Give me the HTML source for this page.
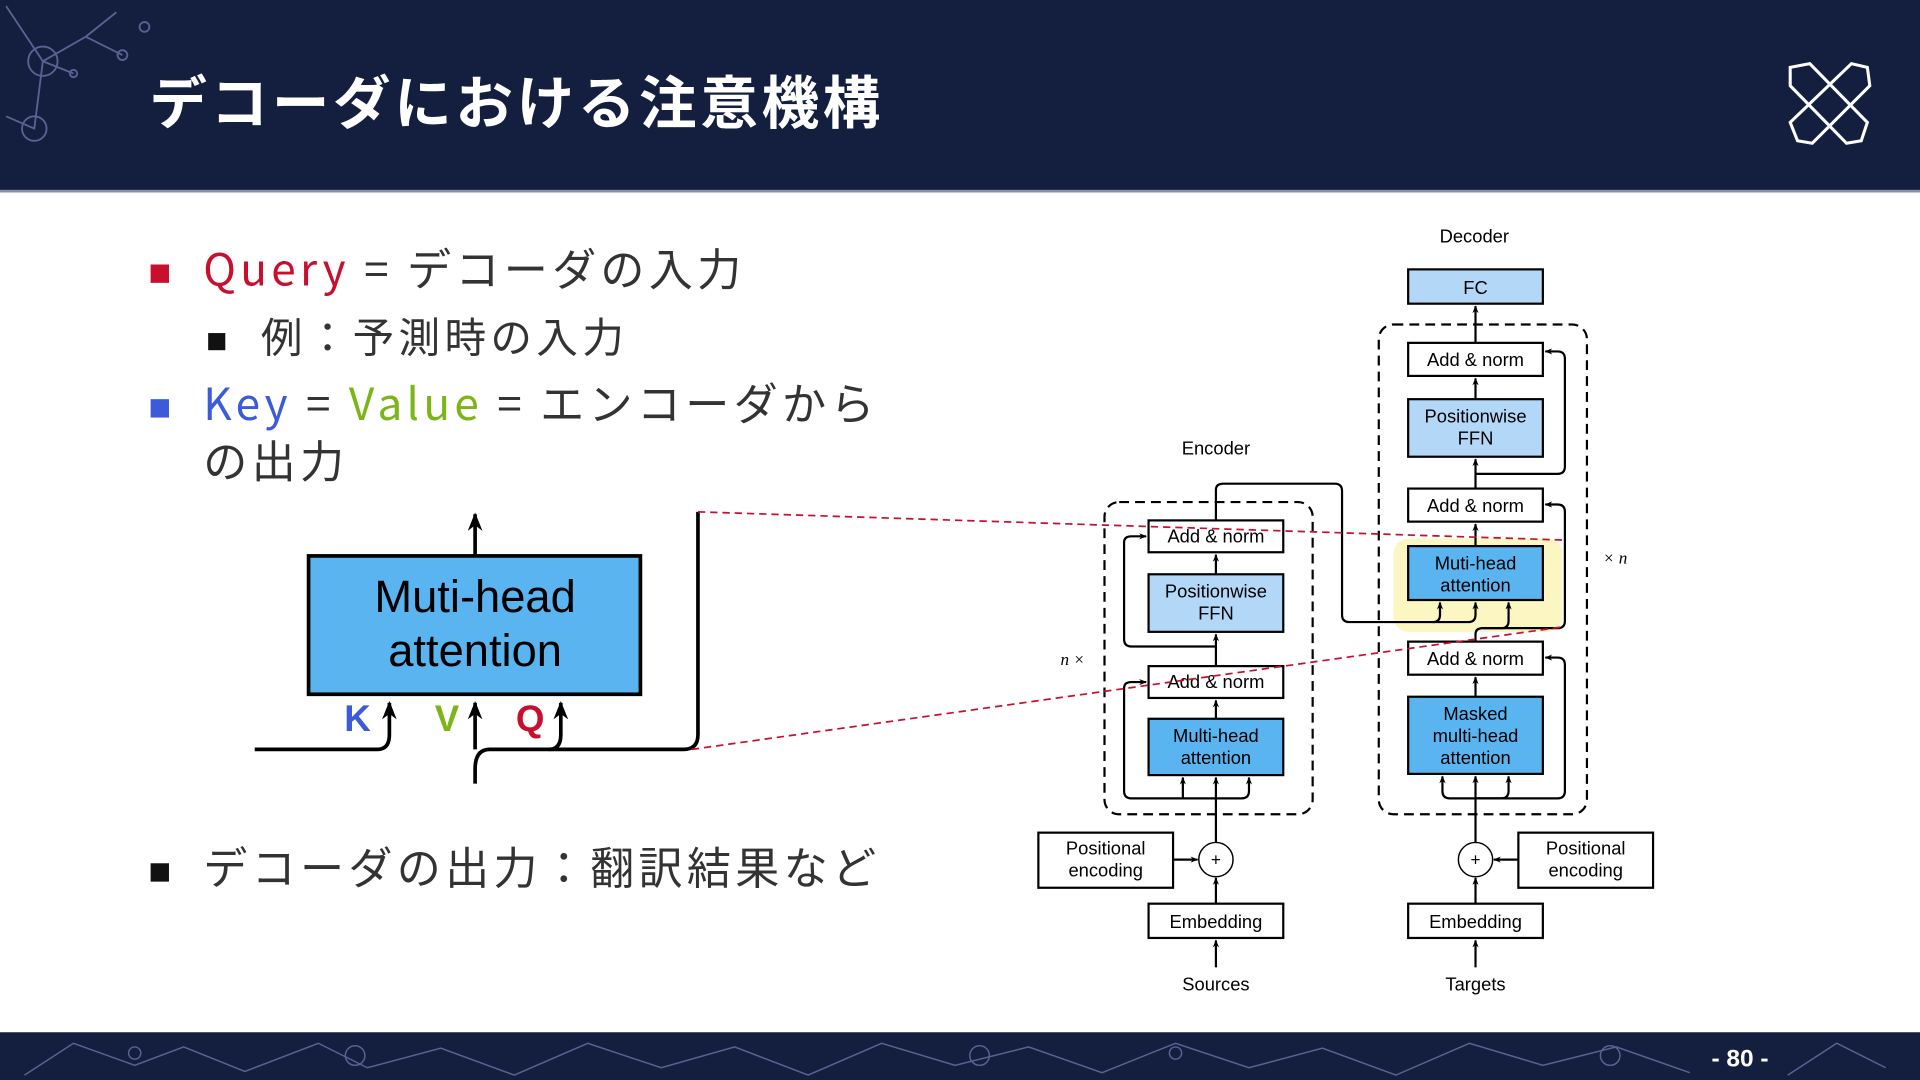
<!DOCTYPE html>
<html><head><meta charset="utf-8"><style>
html,body{margin:0;padding:0;background:#fff;}
svg{display:block}
.j{font-family:"Noto Sans CJK JP","Liberation Sans",sans-serif;}
.a{font-family:"Liberation Sans",sans-serif;}
</style></head><body>
<svg width="1920" height="1080" viewBox="0 0 1568 882" xmlns="http://www.w3.org/2000/svg">
<defs>
<marker id="ar" viewBox="0 0 10 10" refX="9" refY="5" markerWidth="5" markerHeight="5" orient="auto-start-reverse"><path d="M0,1 L10,5 L0,9 L3,5 z" fill="#000"/></marker>
<marker id="ab" viewBox="0 0 10 10" refX="9" refY="5" markerWidth="3.5" markerHeight="3.5" orient="auto-start-reverse"><path d="M0,1 L10,5 L0,9 L3,5 z" fill="#000"/></marker>
</defs>
<rect width="1568" height="882" fill="#fff"/>
<!-- header -->
<rect x="0" y="0" width="1568" height="157" fill="#141f40"/>
<rect x="0" y="155" width="1568" height="2" fill="#8a90a8"/>
<g stroke="#6d73a8" stroke-width="1.5" fill="none" opacity="0.8">
<path d="M5,5 L35,50 L70,30 L100,45 M35,50 L28,105 L5,95 M70,30 L95,10 M60,60 L35,50"/>
<circle cx="35" cy="50" r="12"/><circle cx="28" cy="105" r="10"/><circle cx="100" cy="45" r="4"/><circle cx="118" cy="22" r="4"/><circle cx="60" cy="60" r="3"/>
</g>
<text x="122" y="101" class="j" font-size="47" font-weight="bold" fill="#fff" letter-spacing="3">デコーダにおける注意機構</text>
<g stroke="#fff" stroke-width="2.5" fill="none">
<path d="M1462,55 L1478,52 L1525,100 L1520,115 L1508,117 L1462,70 z"/>
<path d="M1525,55 L1512,52 L1462,100 L1468,115 L1480,117 L1527,70 z"/>
</g>
<!-- footer -->
<rect x="0" y="843" width="1568" height="39" fill="#141f40"/>
<g stroke="#6d73a8" stroke-width="1.2" fill="none" opacity="0.8">
<path d="M20,878 L60,852 L110,870 L150,855 L200,875 L260,852 L300,872 L360,856 L420,878 L480,852 L540,872 L600,855 L660,878 L720,852 L780,870 L840,855 L900,876 L960,852 L1020,872 L1080,856 L1140,878 L1200,852 L1260,870 L1320,855 L1380,876 M1460,878 L1500,852 L1540,872"/>
<circle cx="290" cy="862" r="8"/><circle cx="800" cy="862" r="8"/><circle cx="1315" cy="862" r="8"/><circle cx="110" cy="860" r="5"/><circle cx="960" cy="860" r="5"/>
</g>
<text x="1421" y="871" class="a" font-size="20" font-weight="bold" fill="#fff" text-anchor="middle">- 80 -</text>

<!-- bullets -->
<rect x="123" y="216" width="15" height="15" fill="#c8102e"/>
<text x="166" y="233" class="j" font-size="36" fill="#333" letter-spacing="3.5"><tspan fill="#c8102e">Query</tspan> = デコーダの入力</text>
<rect x="170" y="272" width="14" height="14" fill="#111"/>
<text x="213" y="288" class="j" font-size="34" fill="#333" letter-spacing="3.5">例：予測時の入力</text>
<rect x="123" y="326" width="15" height="15" fill="#3b5bdb"/>
<text x="166" y="343" class="j" font-size="36" fill="#333" letter-spacing="3.5"><tspan fill="#3b5bdb">Key</tspan> = <tspan fill="#7cb518">Value</tspan> = エンコーダから</text>
<text x="166" y="390" class="j" font-size="36" fill="#333" letter-spacing="3.5">の出力</text>
<rect x="123" y="705" width="15" height="15" fill="#111"/>
<text x="166" y="722" class="j" font-size="36" fill="#333" letter-spacing="3.5">デコーダの出力：翻訳結果など</text>

<!-- left diagram -->
<rect x="252" y="454" width="271" height="113" fill="#5ab4f0" stroke="#000" stroke-width="3"/>
<text x="388" y="500" class="a" font-size="37" text-anchor="middle">Muti-head</text>
<text x="388" y="544" class="a" font-size="37" text-anchor="middle">attention</text>
<g stroke="#000" stroke-width="3" fill="none">
<line x1="388" y1="453" x2="388" y2="420" marker-end="url(#ar)"/>
<path d="M208,612 L308,612 Q318,612 318,600 L318,574" marker-end="url(#ar)"/>
<path d="M388,640 L388,628 Q388,612 400,612 L558,612 Q570,612 570,600 L570,418"/>
<line x1="388" y1="612" x2="388" y2="574" marker-end="url(#ar)"/>
<path d="M448,612 Q458,612 458,600 L458,574" marker-end="url(#ar)"/>
</g>
<text x="292" y="597" class="a" font-size="30" font-weight="bold" fill="#3b5bdb" text-anchor="middle">K</text>
<text x="365" y="597" class="a" font-size="30" font-weight="bold" fill="#7cb518" text-anchor="middle">V</text>
<text x="433" y="597" class="a" font-size="30" font-weight="bold" fill="#c8102e" text-anchor="middle">Q</text>

<!-- right diagram -->
<rect x="1138" y="440" width="138" height="76" rx="12" fill="#fbf6c2"/>
<g fill="none" stroke="#000" stroke-width="1.8" stroke-dasharray="8,5">
<rect x="902" y="410" width="170" height="255" rx="12"/>
<rect x="1126" y="265" width="170" height="400" rx="12"/>
</g>
<g stroke="#000" stroke-width="1.8">
<rect x="938" y="425" width="110" height="26" fill="#fff"/>
<rect x="938" y="469" width="110" height="47" fill="#b3d7f7"/>
<rect x="938" y="544" width="110" height="26" fill="#fff"/>
<rect x="938" y="587" width="110" height="46" fill="#5ab4f0"/>
<rect x="848" y="680" width="110" height="45" fill="#fff"/>
<rect x="938" y="738" width="110" height="28" fill="#fff"/>
<rect x="1150" y="220" width="110" height="28" fill="#b3d7f7"/>
<rect x="1150" y="280" width="110" height="27" fill="#fff"/>
<rect x="1150" y="326" width="110" height="47" fill="#b3d7f7"/>
<rect x="1150" y="399" width="110" height="27" fill="#fff"/>
<rect x="1150" y="446" width="110" height="44" fill="#5ab4f0"/>
<rect x="1150" y="524" width="110" height="27" fill="#fff"/>
<rect x="1150" y="569" width="110" height="63" fill="#5ab4f0"/>
<rect x="1240" y="680" width="110" height="45" fill="#fff"/>
<rect x="1150" y="738" width="110" height="28" fill="#fff"/>
<circle cx="993" cy="702" r="14" fill="#fff" stroke-width="1.2"/>
<circle cx="1205" cy="702" r="14" fill="#fff" stroke-width="1.2"/>
</g>
<g class="a" font-size="15" text-anchor="middle" fill="#000">
<text x="993" y="371">Encoder</text>
<text x="1204" y="198">Decoder</text>
<text x="993" y="443">Add &amp; norm</text>
<text x="993" y="488">Positionwise</text><text x="993" y="506">FFN</text>
<text x="993" y="562">Add &amp; norm</text>
<text x="993" y="606">Multi-head</text><text x="993" y="624">attention</text>
<text x="903" y="698">Positional</text><text x="903" y="716">encoding</text>
<text x="993" y="758">Embedding</text>
<text x="993" y="809">Sources</text>
<text x="1205" y="240">FC</text>
<text x="1205" y="299">Add &amp; norm</text>
<text x="1205" y="345">Positionwise</text><text x="1205" y="363">FFN</text>
<text x="1205" y="418">Add &amp; norm</text>
<text x="1205" y="465">Muti-head</text><text x="1205" y="483">attention</text>
<text x="1205" y="543">Add &amp; norm</text>
<text x="1205" y="588">Masked</text><text x="1205" y="606">multi-head</text><text x="1205" y="624">attention</text>
<text x="1295" y="698">Positional</text><text x="1295" y="716">encoding</text>
<text x="1205" y="758">Embedding</text>
<text x="1205" y="809">Targets</text>
<text x="993" y="707" font-size="14">+</text>
<text x="1205" y="707" font-size="14">+</text>
</g>
<text x="876" y="543" font-family="Liberation Serif,serif" font-size="14" font-style="italic" text-anchor="middle">n ×</text>
<text x="1319" y="460" font-family="Liberation Serif,serif" font-size="14" font-style="italic" text-anchor="middle">× n</text>
<g stroke="#000" stroke-width="1.8" fill="none">
<line x1="993" y1="790" x2="993" y2="768" marker-end="url(#ab)"/>
<line x1="993" y1="738" x2="993" y2="717" marker-end="url(#ab)"/>
<line x1="958" y1="702" x2="978" y2="702" marker-end="url(#ab)"/>
<line x1="993" y1="688" x2="993" y2="635" marker-end="url(#ab)"/>
<path d="M993,652 L924,652 Q918,652 918,646 L918,562 Q918,557 924,557 L936,557" marker-end="url(#ab)"/>
<path d="M966,652 Q966,648 966,635" marker-end="url(#ab)"/>
<path d="M993,652 L1014,652 Q1020,652 1020,646 L1020,635" marker-end="url(#ab)"/>
<line x1="993" y1="587" x2="993" y2="572" marker-end="url(#ab)"/>
<line x1="993" y1="544" x2="993" y2="518" marker-end="url(#ab)"/>
<path d="M993,528 L924,528 Q918,528 918,522 L918,443 Q918,438 924,438 L936,438" marker-end="url(#ab)"/>
<line x1="993" y1="469" x2="993" y2="453" marker-end="url(#ab)"/>
<path d="M993,425 L993,400 Q993,395 999,395 L1090,395 Q1096,395 1096,401 L1096,502 Q1096,508 1102,508 L1170,508 Q1176,508 1176,502 L1176,492" marker-end="url(#ab)"/>
<path d="M1170,508 L1199,508 Q1205,508 1205,502 L1205,492" marker-end="url(#ab)"/>
<line x1="1205" y1="790" x2="1205" y2="768" marker-end="url(#ab)"/>
<line x1="1205" y1="738" x2="1205" y2="717" marker-end="url(#ab)"/>
<line x1="1240" y1="702" x2="1220" y2="702" marker-end="url(#ab)"/>
<line x1="1205" y1="688" x2="1205" y2="634" marker-end="url(#ab)"/>
<path d="M1205,652 L1272,652 Q1278,652 1278,646 L1278,543 Q1278,537 1272,537 L1262,537" marker-end="url(#ab)"/>
<path d="M1205,652 L1184,652 Q1178,652 1178,646 L1178,634" marker-end="url(#ab)"/>
<path d="M1205,652 L1226,652 Q1232,652 1232,646 L1232,634" marker-end="url(#ab)"/>
<line x1="1205" y1="569" x2="1205" y2="553" marker-end="url(#ab)"/>
<path d="M1205,524 L1205,518 Q1205,513 1211,513 L1226,513 Q1232,513 1232,507 L1232,492" marker-end="url(#ab)"/>
<path d="M1211,513 L1272,513 Q1278,513 1278,507 L1278,418 Q1278,412 1272,412 L1262,412" marker-end="url(#ab)"/>
<line x1="1205" y1="446" x2="1205" y2="428" marker-end="url(#ab)"/>
<line x1="1205" y1="399" x2="1205" y2="375" marker-end="url(#ab)"/>
<path d="M1205,387 L1272,387 Q1278,387 1278,381 L1278,293 Q1278,287 1272,287 L1262,287" marker-end="url(#ab)"/>
<line x1="1205" y1="326" x2="1205" y2="309" marker-end="url(#ab)"/>
<line x1="1205" y1="280" x2="1205" y2="250" marker-end="url(#ab)"/>
</g>
<g stroke="#c8102e" stroke-width="1.4" stroke-dasharray="6,4" fill="none">
<line x1="570" y1="418" x2="1276" y2="441"/>
<line x1="565" y1="612" x2="1276" y2="512"/>
</g>
</svg>
</body></html>
